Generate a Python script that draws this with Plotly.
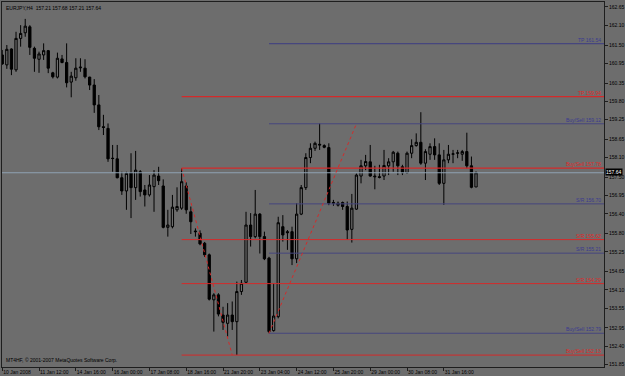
import plotly.graph_objects as go

# ---------------- data (EURJPY, H4) ----------------
opens = [161.20, 160.90, 161.38, 160.75, 161.70, 161.87, 162.05, 161.40, 161.07, 161.20,
         161.33, 160.66, 160.53, 161.08, 160.97, 160.38, 160.51, 160.81, 160.80, 160.53,
         160.29, 159.69, 159.03, 158.98, 158.08, 158.06, 157.49, 157.09, 157.64, 157.19,
         157.67, 157.12, 156.97, 157.22, 157.54, 157.24, 155.99, 156.01, 156.52, 156.57,
         157.24, 156.46, 155.88, 155.81, 155.51, 155.16, 153.80, 153.95, 153.34, 153.09,
         153.34, 153.14, 154.05, 154.33, 156.06, 155.71, 156.39, 155.71, 155.06, 152.87,
         153.29, 156.01, 155.86, 155.86, 155.04, 156.39, 157.19, 158.10, 158.38, 158.50,
         158.46, 158.40, 156.74, 156.66, 156.74, 156.62, 155.93, 156.54, 157.54, 157.85,
         157.97, 157.54, 157.52, 157.54, 157.85, 157.97, 158.23, 157.82, 157.64, 158.23,
         158.46, 158.56, 157.93, 158.20, 158.43, 158.18, 157.32, 158.03, 158.20, 158.23,
         158.20, 158.28, 157.85, 157.21]
highs = [161.35, 161.50, 161.40, 161.90, 162.10, 162.29, 162.10, 161.45, 161.30, 161.55,
         161.35, 160.69, 161.27, 161.20, 161.55, 160.69, 161.10, 161.10, 161.07, 160.54,
         160.47, 159.99, 159.39, 159.13, 158.48, 158.48, 157.67, 157.67, 158.23, 158.30,
         157.72, 157.27, 157.57, 157.72, 157.82, 157.44, 156.52, 156.97, 157.20, 157.78,
         157.35, 156.62, 155.96, 155.90, 155.55, 155.20, 154.00, 154.00, 153.59, 153.70,
         153.75, 154.35, 154.40, 156.46, 156.42, 157.12, 156.42, 155.86, 155.10, 154.30,
         156.31, 156.36, 155.91, 156.01, 156.72, 157.27, 158.23, 158.53, 158.58, 159.13,
         158.50, 158.53, 156.82, 156.77, 156.77, 156.77, 157.00, 157.62, 158.03, 158.18,
         158.48, 157.85, 157.88, 158.33, 158.08, 158.30, 158.28, 157.88, 158.28, 158.65,
         158.83, 159.47, 158.35, 158.53, 158.68, 158.53, 158.33, 158.48, 158.33, 158.33,
         158.33, 158.85, 158.13, 157.68]
lows = [160.90, 160.78, 160.59, 160.69, 161.45, 161.75, 161.20, 160.69, 160.66, 161.05,
        160.65, 160.49, 160.49, 160.95, 160.22, 159.92, 160.42, 160.69, 160.49, 160.14,
        159.45, 158.93, 158.78, 157.97, 157.67, 157.47, 156.97, 156.52, 156.27, 156.82,
        156.92, 156.62, 156.92, 156.46, 157.27, 155.96, 155.71, 155.96, 156.46, 156.52,
        156.40, 155.79, 155.71, 155.45, 155.10, 153.78, 152.84, 153.30, 152.89, 152.69,
        152.89, 152.13, 153.95, 154.30, 155.41, 155.66, 155.20, 155.00, 152.79, 152.84,
        153.24, 155.56, 155.31, 154.85, 154.91, 156.36, 157.12, 157.93, 158.30, 158.33,
        158.38, 156.66, 156.64, 156.62, 156.52, 155.61, 155.53, 156.52, 157.32, 157.72,
        157.52, 157.14, 157.47, 157.42, 157.57, 157.67, 157.57, 157.57, 157.62, 158.08,
        158.43, 157.88, 157.42, 158.03, 158.03, 157.27, 156.67, 157.93, 157.93, 158.08,
        158.00, 157.77, 157.17, 157.21]
closes = [160.93, 161.37, 160.77, 161.70, 161.85, 162.07, 161.43, 161.10, 161.23, 161.33,
          160.80, 160.54, 161.10, 160.97, 160.36, 160.56, 160.80, 160.83, 160.54, 160.29,
          159.69, 159.03, 159.01, 158.06, 158.07, 157.49, 157.09, 157.62, 157.19, 157.72,
          157.07, 156.97, 157.27, 157.57, 157.40, 155.99, 156.06, 156.60, 156.62, 157.37,
          156.52, 156.16, 155.86, 155.49, 155.16, 153.82, 153.95, 153.37, 153.12, 153.34,
          153.14, 154.05, 154.30, 156.06, 155.71, 156.39, 155.71, 155.04, 152.84, 153.31,
          156.13, 155.76, 155.83, 155.04, 156.39, 157.19, 158.10, 158.38, 158.53, 158.48,
          158.41, 156.72, 156.72, 156.72, 156.62, 155.91, 156.57, 157.57, 157.85, 157.98,
          157.54, 157.52, 157.50, 157.86, 157.97, 158.26, 157.85, 157.64, 158.23, 158.46,
          158.56, 157.93, 158.28, 158.43, 158.18, 157.32, 158.03, 158.20, 158.21, 158.24,
          158.28, 157.85, 157.20, 157.64]
bars = list(range(len(opens)))

title_text = "EURJPY,H4  157.21 157.68 157.21 157.64"
copyright_text = "MT4HF, \u00a9 2001-2007 MetaQuotes Software Corp."
last_price = 157.64

x_tick_bars = [0, 8, 16, 24, 32, 40, 48, 56, 64, 72, 80, 88, 96]
x_tick_labels = ["10 Jan 2008", "11 Jan 12:00", "14 Jan 16:00", "16 Jan 00:00",
                 "17 Jan 08:00", "18 Jan 16:00", "21 Jan 20:00", "23 Jan 04:00",
                 "24 Jan 12:00", "25 Jan 20:00", "29 Jan 00:00", "30 Jan 08:00",
                 "31 Jan 16:00"]
y_tick_labels = ["162.65", "162.10", "161.50", "160.95", "160.35", "159.80", "159.25",
                 "158.65", "158.10", "157.50", "156.95", "156.40", "155.80", "155.25",
                 "154.65", "154.10", "153.55", "152.95", "152.40", "151.85"]

red_names = ["TP", "Buy/Sell", "S/R", "S/R", "Buy/Sell"]
red_levels = [159.94, 157.78, 155.62, 154.29, 152.13]
red_start_bar = 39
blue_names = ["TP", "Buy/Sell", "S/R", "S/R", "Buy/Sell"]
blue_levels = [161.54, 159.12, 156.70, 155.21, 152.79]
blue_start_bar = 58

zz1_bars = [39, 50]
zz1_prices = [157.78, 152.13]
zz2_bars = [58, 77]
zz2_prices = [152.79, 159.12]

# ---------------- style ----------------
BG = "#6d6d6d"
RED = "#d42a2a"
BLUE = "#46467e"
CUR = "#8fa2b3"
FONT = "Liberation Sans"
X_MIN, X_MAX = -0.05, 130.82
Y_MIN, Y_MAX = 151.77, 162.80

fig = go.Figure()

# current price line
fig.add_trace(go.Scatter(x=[X_MIN, X_MAX], y=[last_price, last_price], mode="lines",
                         line=dict(color=CUR, width=1), hoverinfo="skip"))

# level lines
for i, (lv, nm) in enumerate(zip(red_levels, red_names)):
    w = 1.3 if i < 2 else 1
    fig.add_trace(go.Scatter(x=[red_start_bar, X_MAX], y=[lv, lv], mode="lines",
                             line=dict(color=RED, width=w), hoverinfo="skip"))
    fig.add_annotation(x=1, xref="paper", y=lv, yref="y", xanchor="right", yanchor="bottom",
                       text=f"{nm} {lv:.2f}", showarrow=False, xshift=-1, yshift=-1,
                       font=dict(family=FONT, size=5, color="#e02828"))
for i, (lv, nm) in enumerate(zip(blue_levels, blue_names)):
    w = 1.3 if i == 0 else 1
    fig.add_trace(go.Scatter(x=[blue_start_bar, X_MAX], y=[lv, lv], mode="lines",
                             line=dict(color=BLUE, width=w), hoverinfo="skip"))
    fig.add_annotation(x=1, xref="paper", y=lv, yref="y", xanchor="right", yanchor="bottom",
                       text=f"{nm} {lv:.2f}", showarrow=False, xshift=-1, yshift=-1,
                       font=dict(family=FONT, size=5, color="#3a3a90"))

# zigzag dotted lines
for zb, zp in ((zz1_bars, zz1_prices), (zz2_bars, zz2_prices)):
    fig.add_trace(go.Scatter(x=zb, y=zp, mode="lines",
                             line=dict(color=RED, width=1, dash="dot"), hoverinfo="skip"))

# candles
fig.add_trace(go.Candlestick(
    x=bars, open=opens, high=highs, low=lows, close=closes,
    increasing=dict(line=dict(color="#000000", width=1), fillcolor=BG),
    decreasing=dict(line=dict(color="#000000", width=1), fillcolor="#000000"),
    whiskerwidth=0, hoverinfo="skip"))

# texts
fig.add_annotation(x=0, xref="paper", y=1, yref="paper", xanchor="left", yanchor="top",
                   text=title_text, showarrow=False, xshift=2, yshift=-1,
                   font=dict(family=FONT, size=5, color="#000000"))
fig.add_annotation(x=0, xref="paper", y=0, yref="paper", xanchor="left", yanchor="bottom",
                   text=copyright_text, showarrow=False, xshift=2, yshift=2,
                   font=dict(family=FONT, size=5, color="#000000"))
fig.add_annotation(x=1, xref="paper", y=last_price, yref="y", xanchor="left", yanchor="middle",
                   text=f"{last_price:.2f}", showarrow=False, xshift=1, yshift=1,
                   bgcolor="#000000", borderpad=0,
                   font=dict(family=FONT, size=5, color="#ffffff"))

fig.update_layout(
    width=625, height=376, margin=dict(l=2, r=21, t=2, b=9, autoexpand=False),
    paper_bgcolor=BG, plot_bgcolor=BG, showlegend=False, hovermode=False,
    font=dict(family=FONT, size=5, color="#000000"),
    xaxis=dict(range=[X_MIN, X_MAX], rangeslider=dict(visible=False), showgrid=False,
               zeroline=False, showline=True, linecolor="#1e1e1e", linewidth=1, mirror=True,
               tickmode="array", tickvals=x_tick_bars, ticktext=x_tick_labels,
               ticks="outside", ticklen=3, tickcolor="#1e1e1e", tickangle=0,
               ticklabelposition="outside right", automargin=False,
               tickfont=dict(family=FONT, size=5, color="#000000")),
    yaxis=dict(range=[Y_MIN, Y_MAX], side="right", showgrid=False, zeroline=False,
               showline=True, linecolor="#1e1e1e", linewidth=1, mirror=True,
               tickmode="array", tickvals=[float(t) for t in y_tick_labels],
               ticktext=y_tick_labels, ticks="outside", ticklen=3, tickcolor="#1e1e1e",
               automargin=False,
               tickfont=dict(family=FONT, size=5, color="#000000")),
)

fig.write_html("out.html")
